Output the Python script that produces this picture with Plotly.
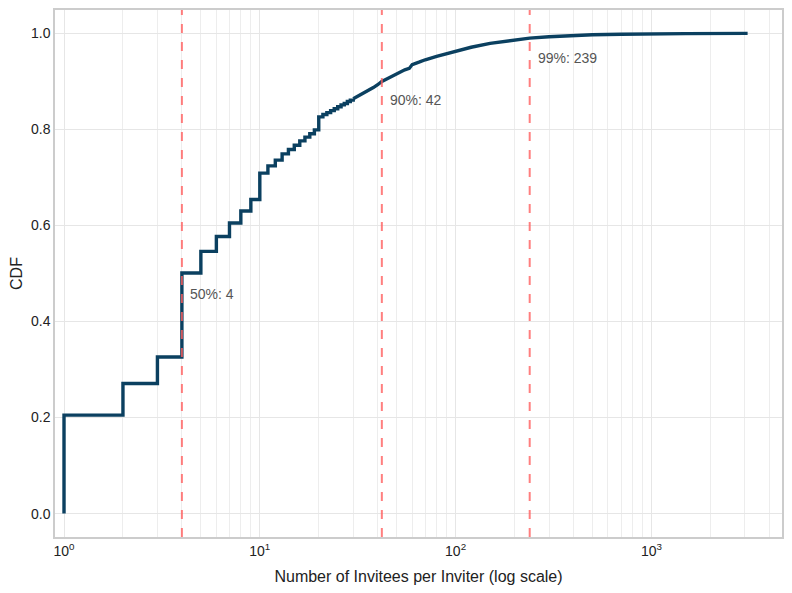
import math
import plotly.graph_objects as go

# Invitees per inviter (x) and cumulative share (CDF, y)
invitees = [1, 1, 2, 3, 4, 5, 6, 7, 8, 9, 10, 11, 12, 13, 14, 15, 16, 17, 18, 19,
            20, 21, 22, 23, 24, 25, 26, 27, 28, 29, 30, 32, 34, 36, 38, 40, 42, 45,
            48, 50, 55, 58, 60, 65, 70, 80, 90, 100, 120, 150, 200, 239, 300, 400,
            500, 700, 1000, 1500, 3100]
cdf = [0.0, 0.205, 0.271, 0.326, 0.501, 0.546, 0.577, 0.605, 0.630, 0.654, 0.709,
       0.724, 0.736, 0.749, 0.758, 0.767, 0.776, 0.784, 0.791, 0.799,
       0.826, 0.831, 0.835, 0.839, 0.843, 0.847, 0.851, 0.854, 0.858, 0.861, 0.864,
       0.870, 0.876, 0.882, 0.887, 0.893, 0.900, 0.906, 0.912, 0.916, 0.924, 0.927,
       0.935, 0.940, 0.945, 0.952, 0.958, 0.963, 0.971, 0.979, 0.986, 0.990, 0.993,
       0.996, 0.997, 0.998, 0.999, 0.9995, 1.0]

pct_labels = ["50%", "90%", "99%"]
pct_values = [4, 42, 239]
label_y = [0.457, 0.861, 0.949]

tick_vals = [1, 10, 100, 1000]
tick_text = ["10<sup>0</sup>", "10<sup>1</sup>", "10<sup>2</sup>", "10<sup>3</sup>"]
minor_vals = [m * d for d in [1, 10, 100, 1000] for m in range(2, 10)]

y_ticks = [0.0, 0.2, 0.4, 0.6, 0.8, 1.0]

LINE = dict(color="#0b4060", width=3.4)
split = invitees.index(30)

fig = go.Figure()
# visible integer steps for small counts
fig.add_trace(go.Scatter(x=invitees[:split + 1], y=cdf[:split + 1], mode="lines",
                         line_shape="hv", line=LINE, showlegend=False))
# dense tail: steps too fine to see
fig.add_trace(go.Scatter(x=invitees[split:], y=cdf[split:], mode="lines",
                         line_shape="linear", line=LINE, showlegend=False))

for v in pct_values:
    fig.add_vline(x=v, line=dict(color="rgba(255,95,95,0.8)", width=2, dash="dash"), layer="above")

for lab, v, yy in zip(pct_labels, pct_values, label_y):
    fig.add_annotation(x=math.log10(v), y=yy, text=f"{lab}: {v}", showarrow=False,
                       xanchor="left", yanchor="middle", xshift=6,
                       font=dict(size=14, color="#555555"))

fig.update_layout(
    width=784, height=585,
    margin=dict(l=47, r=10, t=2, b=56),
    plot_bgcolor="white", paper_bgcolor="white",
    font=dict(family="Liberation Sans, Arial, sans-serif", color="#222222"),
)
fig.update_xaxes(type="log", range=[-0.046, 3.667], automargin=False,
                 tickvals=tick_vals, ticktext=tick_text,
                 tickfont=dict(size=14),
                 showgrid=True, gridcolor="#e6e6e6", gridwidth=1,
                 minor=dict(tickvals=minor_vals, showgrid=True, gridcolor="#ededed", gridwidth=1, ticks=""),
                 showline=True, linecolor="#cccccc", linewidth=1.5, mirror=True,
                 ticks="", zeroline=False,
                 title=dict(text="Number of Invitees per Inviter (log scale)", font=dict(size=16), standoff=13))
fig.update_yaxes(range=[-0.0487, 1.0486], automargin=False,
                 tickvals=y_ticks, ticktext=[f"{t:.1f}" for t in y_ticks],
                 tickfont=dict(size=14),
                 showgrid=True, gridcolor="#e6e6e6", gridwidth=1,
                 showline=True, linecolor="#cccccc", linewidth=1.5, mirror=True,
                 ticks="", zeroline=False,
                 title=dict(text="CDF", font=dict(size=16), standoff=8))

fig.write_html("out.html")
